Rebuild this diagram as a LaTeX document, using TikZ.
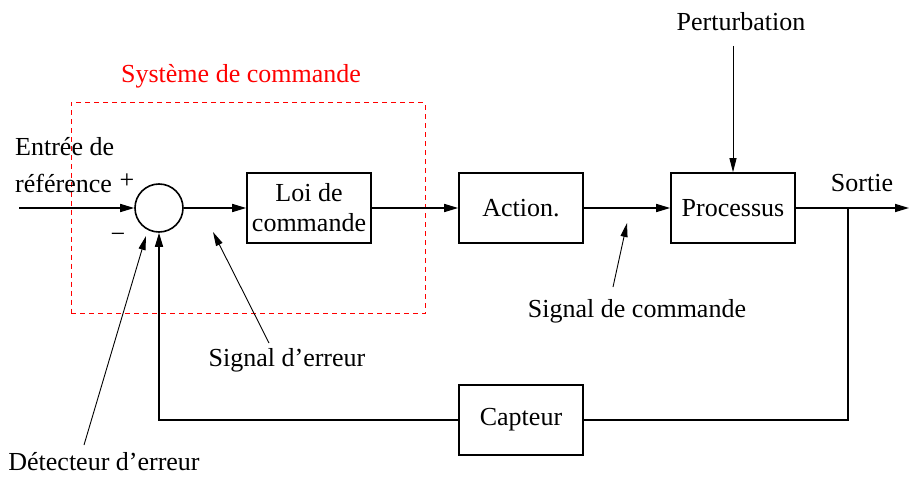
\documentclass[tikz,border=0pt]{standalone}
\usepackage{fontspec}
\setmainfont{Liberation Serif}
\usetikzlibrary{arrows.meta}
\begin{document}
\begin{tikzpicture}[x=1pt,y=-1pt,
  every node/.style={font=\fontsize{26}{30}\selectfont, inner sep=0pt},
  blk/.style={draw, line width=1.6pt, minimum width=124pt, minimum height=70pt, align=center},
  sumnode/.style={draw, circle, line width=1.6pt, minimum size=48pt},
  sig/.style={line width=1.6pt, -{Triangle[length=14pt,width=8pt]}},
  thin/.style={line width=0.9pt, -{Triangle[length=14pt,width=7pt]}},
  wire/.style={line width=1.6pt}]
\useasboundingbox (0,0) rectangle (909,476);
% dashed control system box
\node[draw=red, dash pattern=on 5pt off 4pt, line width=1pt, minimum width=354pt, minimum height=211pt] (ctrl) at (248,208) {};
\node[text=red] (ctrllab) at (241,76) {Système de commande};
% blocks
\node[sumnode] (sum) at (159,208) {};
\node[blk] (loi) at (309,208) {Loi de\\commande};
\node[blk] (act) at (521,208) {Action.};
\node[blk] (proc) at (733,208) {Processus};
\node[blk] (cap) at (521,420) {Capteur};
% texts
\node[anchor=west] (in1) at (15,147) {Entrée de};
\node[anchor=west] (in2) at (15,183) {référence};
\node (plus) at (127,181) {+};
\node (minus) at (118,238) {−};
\node (sortie) at (862,183) {Sortie};
\node (pert) at (741,22) {Perturbation};
\node (serr) at (287,360) {Signal d’erreur};
\node (scom) at (637,311) {Signal de commande};
\node (det) at (104,462) {Détecteur d’erreur};
% coordinates
\coordinate (inp) at (19,208);
\coordinate (outp) at (909,208);
\coordinate (br) at (848,208);
\coordinate (brb) at (848,420);
\coordinate (fbl) at (159,420);
\coordinate (pt) at (733,46);
\coordinate (e1) at (269,343);
\coordinate (e2) at (213,232);
\coordinate (c1) at (613,287);
\coordinate (c2) at (627,223);
\coordinate (d1) at (84,445);
\coordinate (d2) at (146,236);
% signal flow
\draw[sig] (inp) -- (sum.west);
\draw[sig] (sum.east) -- (loi.west);
\draw[sig] (loi.east) -- (act.west);
\draw[sig] (act.east) -- (proc.west);
\draw[sig] (proc.east) -- (outp);
\draw[wire] (br) -- (brb) -- (cap.east);
\draw[sig] (cap.west) -- (fbl) -- (sum.south);
\draw[thin] (pt) -- (proc.north);
% annotation arrows
\draw[thin] (e1) -- (e2);
\draw[thin] (c1) -- (c2);
\draw[thin] (d1) -- (d2);
\end{tikzpicture}
\end{document}
